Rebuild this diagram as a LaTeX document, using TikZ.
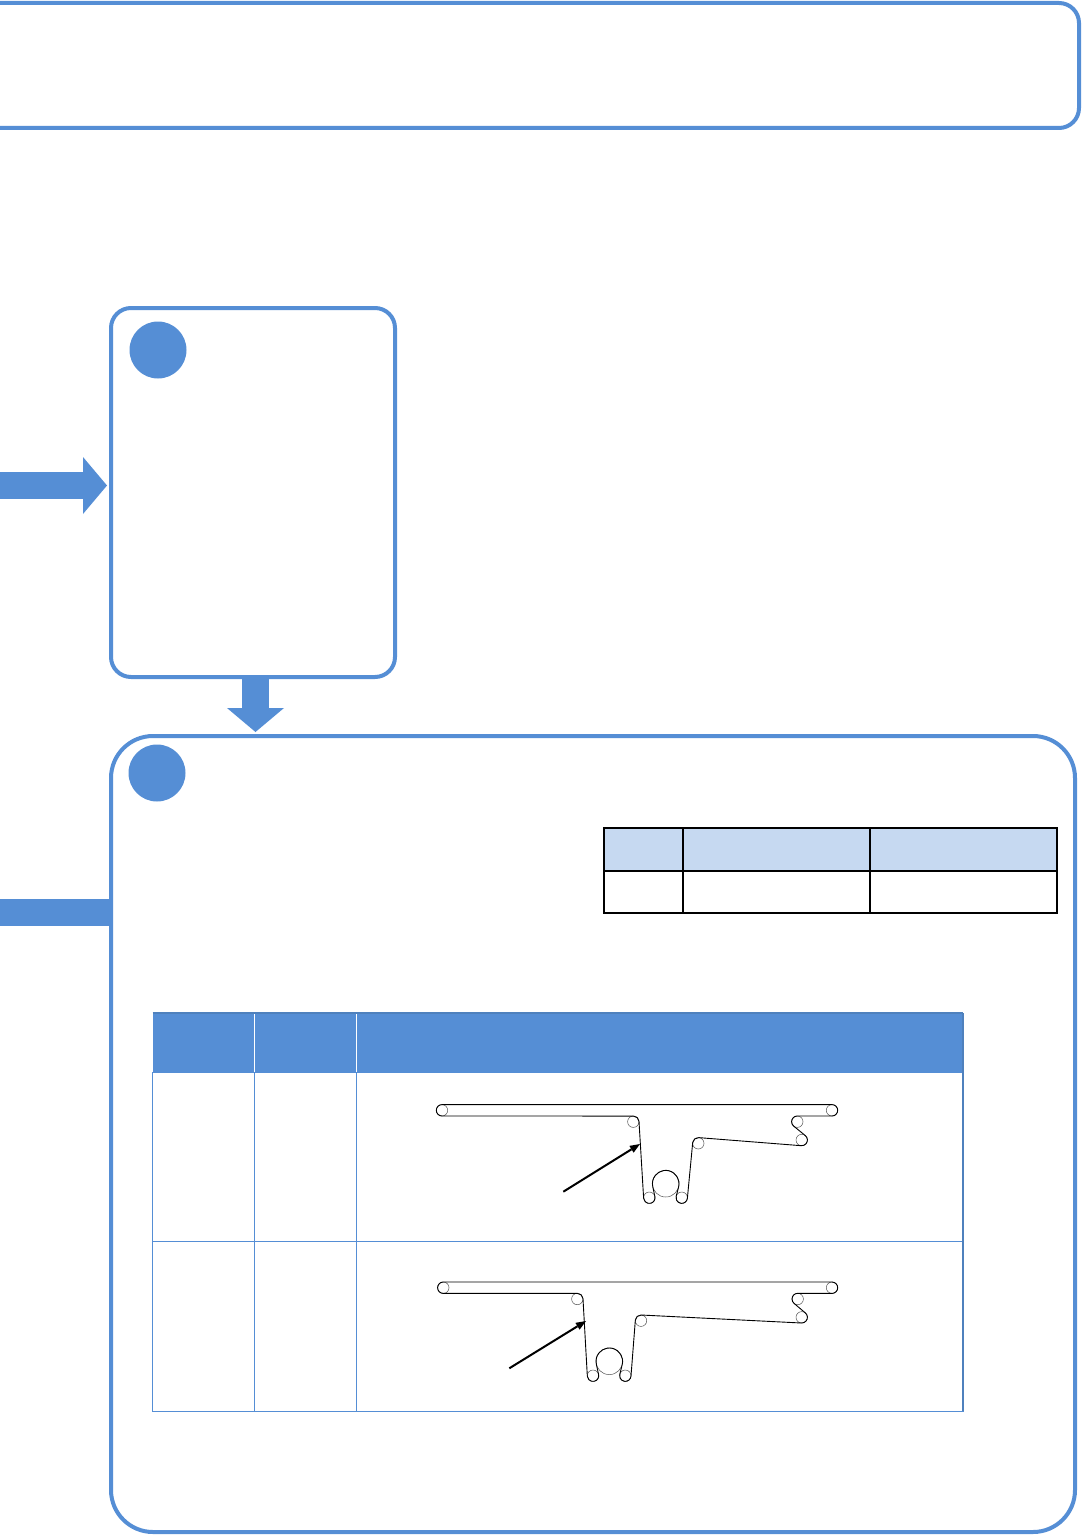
\documentclass[tikz,border=0pt]{standalone}
\usepackage{tikz}
\usetikzlibrary{arrows.meta,positioning}
\definecolor{PanelBlue}{HTML}{558ED5}
\definecolor{PanelDark}{HTML}{4F81BD}
\definecolor{HeadLight}{HTML}{C6D9F1}
\definecolor{RollerGray}{HTML}{555555}

\begin{document}
\begin{tikzpicture}[
    x=1pt, y=-1pt,
    panel/.style={draw=PanelBlue, fill=white, line width=4pt, inner sep=0pt, outer sep=0pt},
    badge/.style={circle, fill=PanelBlue, minimum size=57pt, inner sep=0pt},
    blockarrow/.style={draw=PanelBlue, line width=27pt, -{Triangle[length=24pt, width=57pt, line width=0pt]}},
    blockbar/.style={draw=PanelBlue, line width=27pt},
    smallcell/.style={draw=black, line width=2pt, minimum height=42.5pt, inner sep=0pt, outer sep=0pt},
    headcell/.style={fill=PanelBlue, minimum height=59pt, inner sep=0pt, outer sep=0pt},
    bodycell/.style={draw=PanelBlue, line width=1pt, minimum height=169.5pt, inner sep=0pt, outer sep=0pt},
    roller/.style={circle, draw=RollerGray, line width=0.5pt, minimum size=11.4pt, inner sep=0pt, outer sep=0pt},
    bigroller/.style={circle, draw=RollerGray, line width=0.5pt, minimum size=26.6pt, inner sep=0pt, outer sep=0pt},
    belt/.style={draw=black, line width=0.9pt, line join=round},
    pointer/.style={draw=black, line width=2pt, -{Triangle[length=10pt, width=8pt, line width=0pt]}}
  ]
    \useasboundingbox (0,0) rectangle (1082,1536);

    % panels
    \node[panel, rounded corners=20pt, minimum width=1109pt, minimum height=125pt] (titlebox) at (524.5,65.5) {};
    \node[panel, rounded corners=20pt, minimum width=284pt, minimum height=369pt] (stepbox) at (253,492.5) {};
    \node[panel, rounded corners=42pt, minimum width=964pt, minimum height=796pt] (resultbox) at (593,1134) {};
    \node[badge] (stepmark) at (158,350) {};
    \node[badge] (resultmark) at (157,773) {};

    % block arrows
    \coordinate (stepin) at (0,485.5);
    \coordinate (resultin) at (0,912.5);
    \draw[blockarrow, shorten >=4pt] (stepin) -- (stepin -| stepbox.west);
    \draw[blockarrow, shorten >=4pt] ([xshift=2.5pt]stepbox.south) -- ([xshift=2.5pt]stepbox.south |- resultbox.north);
    \draw[blockbar] (resultin) -- (resultin -| resultbox.west);

    % small table
    \node[smallcell, fill=HeadLight, minimum width=79pt] (sa) at (643.5,849.5) {};
    \node[smallcell, fill=HeadLight, minimum width=187pt, right=0pt of sa] (sb) {};
    \node[smallcell, fill=HeadLight, minimum width=187pt, right=0pt of sb] (sc) {};
    \node[smallcell, minimum width=79pt, below=0pt of sa] (sd) {};
    \node[smallcell, minimum width=187pt, below=0pt of sb] (se) {};
    \node[smallcell, minimum width=187pt, below=0pt of sc] (sf) {};

    % large table
    \node[headcell, minimum width=102pt] (ha) at (203.5,1042.5) {};
    \node[headcell, minimum width=102pt, right=0pt of ha] (hb) {};
    \node[headcell, minimum width=606.5pt, right=0pt of hb] (hc) {};
    \draw[white, line width=1.2pt] (ha.north east) -- (ha.south east);
    \draw[white, line width=1.2pt] (hb.north east) -- (hb.south east);
    \draw[PanelDark, line width=2pt] (ha.north west) -- (hc.north east);
    \node[bodycell, minimum width=102pt, below=0pt of ha] (ra) {};
    \node[bodycell, minimum width=102pt, below=0pt of hb] (rb) {};
    \node[bodycell, minimum width=606.5pt, below=0pt of hc] (rc) {};
    \node[bodycell, minimum width=102pt, below=0pt of ra] (qa) {};
    \node[bodycell, minimum width=102pt, below=0pt of rb] (qb) {};
    \node[bodycell, minimum width=606.5pt, below=0pt of rc] (qc) {};
    \draw[PanelDark, line width=1.2pt] (hc.north east) -- (qc.south east);

    % first web path
    \node[roller] (aleft) at (442,1110.3) {};
    \node[roller] (aright) at (832,1110.3) {};
    \node[roller] (atop) at (633.3,1121.7) {};
    \node[roller] (adownl) at (649.3,1197.7) {};
    \node[bigroller] (adrum) at (665.7,1183.7) {};
    \node[roller] (adownr) at (681.7,1197.7) {};
    \node[roller] (aback) at (698.3,1143.3) {};
    \node[roller] (asup) at (797.3,1121.7) {};
    \node[roller] (asdn) at (801.7,1140) {};
    \draw[belt] (aleft.north) -- (aright.north)
      arc[start angle=90, end angle=-90, radius=5.7pt] -- (asup.north)
      arc[start angle=90, end angle=231, radius=5.7pt] -- (asdn.51)
      arc[start angle=51, end angle=-94.5, radius=5.7pt] -- (aback.85.5)
      arc[start angle=85.5, end angle=174.6, radius=5.7pt] -- (adownr.-5.4)
      arc[start angle=-5.4, end angle=-194.2, radius=5.7pt] -- (adrum.-14.2)
      arc[start angle=-14.2, end angle=194.2, radius=13.3pt] -- (adownl.14.2)
      arc[start angle=14.2, end angle=-176.5, radius=5.7pt] -- (atop.3.5)
      arc[start angle=3.5, end angle=90, radius=5.7pt] -- (aleft.south)
      arc[start angle=270, end angle=90, radius=5.7pt];
    \coordinate (afrom) at (563.3,1191.7);
    \coordinate (ato) at (640,1144);
    \draw[pointer] (afrom) -- (ato);

    % second web path
    \node[roller] (bleft) at (443.3,1287.7) {};
    \node[roller] (bright) at (832,1287.7) {};
    \node[roller] (btop) at (577.3,1299) {};
    \node[roller] (bdownl) at (593,1375.7) {};
    \node[bigroller] (bdrum) at (609.3,1361.3) {};
    \node[roller] (bdownr) at (625.3,1375.7) {};
    \node[roller] (bback) at (641,1320.7) {};
    \node[roller] (bsup) at (797.7,1299) {};
    \node[roller] (bsdn) at (801.7,1317.3) {};
    \draw[belt] (bleft.north) -- (bright.north)
      arc[start angle=90, end angle=-90, radius=5.7pt] -- (bsup.north)
      arc[start angle=90, end angle=231, radius=5.7pt] -- (bsdn.51)
      arc[start angle=51, end angle=-93, radius=5.7pt] -- (bback.87)
      arc[start angle=87, end angle=174.6, radius=5.7pt] -- (bdownr.-5.4)
      arc[start angle=-5.4, end angle=-194.2, radius=5.7pt] -- (bdrum.-14.2)
      arc[start angle=-14.2, end angle=194.2, radius=13.3pt] -- (bdownl.14.2)
      arc[start angle=14.2, end angle=-176.5, radius=5.7pt] -- (btop.3.5)
      arc[start angle=3.5, end angle=90, radius=5.7pt] -- (bleft.south)
      arc[start angle=270, end angle=90, radius=5.7pt];
    \coordinate (bfrom) at (509.3,1368.3);
    \coordinate (bto) at (586,1321);
    \draw[pointer] (bfrom) -- (bto);
\end{tikzpicture}
\end{document}
